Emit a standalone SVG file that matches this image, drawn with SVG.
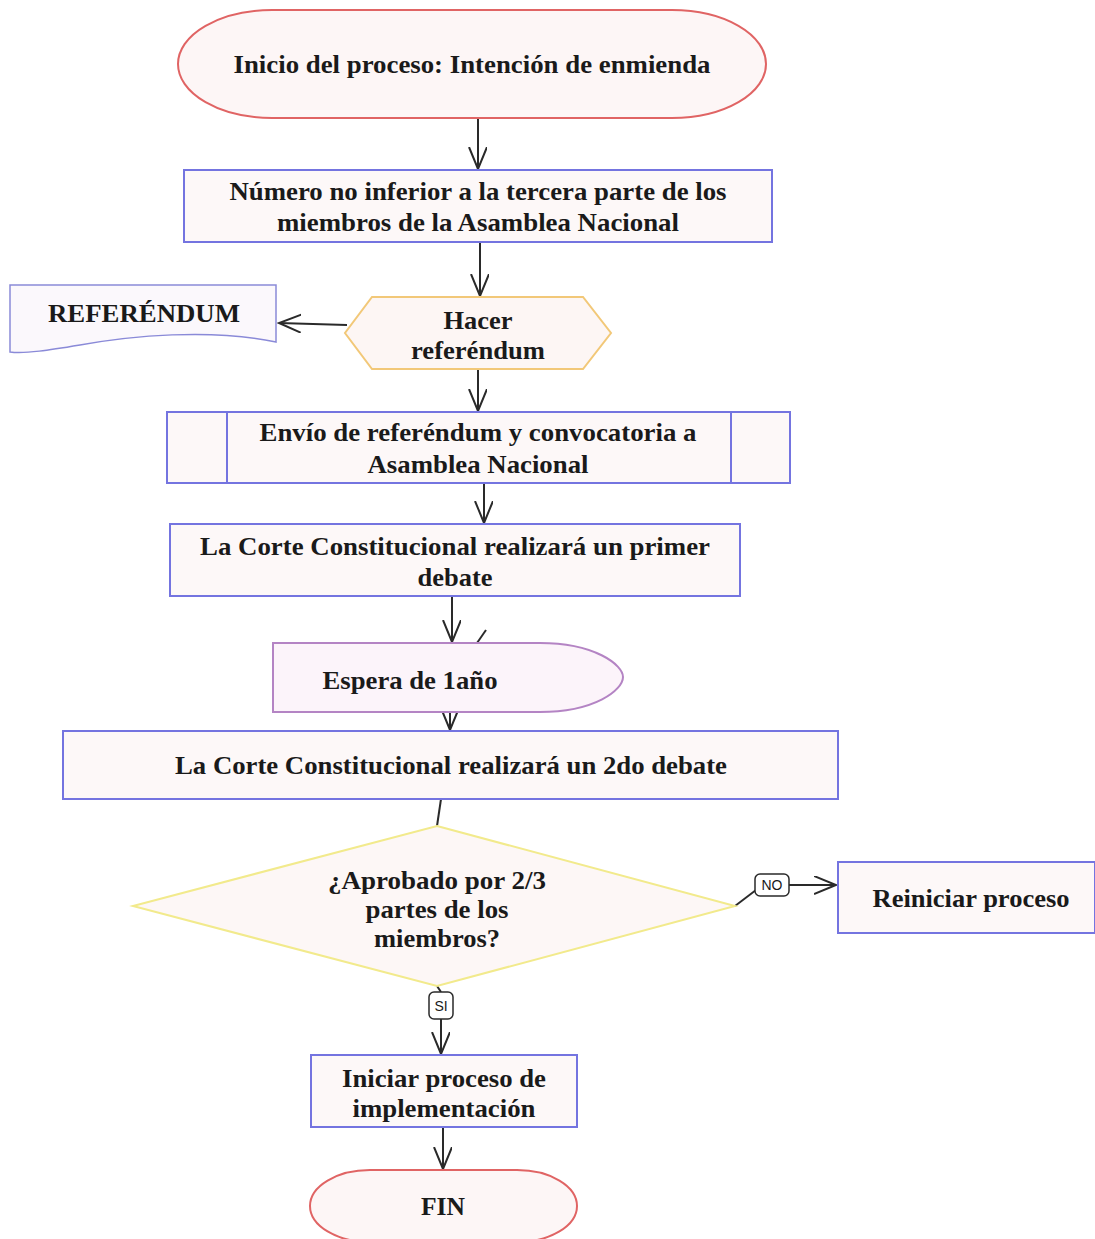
<svg xmlns="http://www.w3.org/2000/svg" width="1095" height="1239" viewBox="0 0 1095 1239">
<style>
text{font-family:"Liberation Serif","Times New Roman",serif;font-weight:bold;font-size:26px;fill:#1a1a1a;text-anchor:middle}
.lbl{font-family:"Liberation Sans",Arial,sans-serif;font-weight:normal;font-size:14px}
.box{fill:#fdf8f8;stroke:#7474e0;stroke-width:2}
.term{fill:#fdf6f6;stroke:#e06464;stroke-width:2}
.hex{fill:#fdf6f4;stroke:#f2c878;stroke-width:2}
.doc{fill:#fbf8fc;stroke:#8a8ad8;stroke-width:1.5}
.dly{fill:#fcf4fa;stroke:#b484c4;stroke-width:2}
.dia{fill:#fdf7f6;stroke:#f2ea8c;stroke-width:2}
.c{fill:none;stroke:#2a2a2a;stroke-width:2}
.tag{fill:#fff;stroke:#2a2a2a;stroke-width:1.5}
</style>
<defs>
<marker id="a" markerUnits="userSpaceOnUse" markerWidth="24" markerHeight="20" refX="22" refY="9" orient="auto">
<path d="M0,0 L22,9 L0,18" fill="none" stroke="#2a2a2a" stroke-width="2"/>
</marker>
</defs>
<rect width="1095" height="1239" fill="#fff"/>
<g id="connectors">
<line class="c" x1="478" y1="118" x2="478" y2="169" marker-end="url(#a)"/>
<line class="c" x1="480" y1="242" x2="480" y2="296" marker-end="url(#a)"/>
<line class="c" x1="347" y1="325" x2="279" y2="323" marker-end="url(#a)"/>
<line class="c" x1="478" y1="369" x2="478" y2="411" marker-end="url(#a)"/>
<line class="c" x1="484" y1="483" x2="484" y2="523" marker-end="url(#a)"/>
<line class="c" x1="452" y1="596" x2="452" y2="642" marker-end="url(#a)"/>
<line class="c" x1="477" y1="643" x2="486" y2="630"/>
<line class="c" x1="450" y1="712" x2="450" y2="730" marker-end="url(#a)"/>
<line class="c" x1="441" y1="799" x2="437" y2="826"/>
<line class="c" x1="735" y1="906" x2="756" y2="890"/>
<line class="c" x1="789" y1="885" x2="836" y2="885" marker-end="url(#a)"/>
<line class="c" x1="437" y1="986" x2="441" y2="992"/>
<line class="c" x1="441" y1="1019" x2="441" y2="1054" marker-end="url(#a)"/>
<line class="c" x1="443" y1="1127" x2="443" y2="1169" marker-end="url(#a)"/>
<rect class="tag" x="755" y="874" width="34" height="22" rx="5"/>
<text class="lbl" x="772" y="890">NO</text>
<rect class="tag" x="429" y="992" width="24" height="27" rx="5"/>
<text class="lbl" x="441" y="1011">SI</text>
</g>
<g id="n1">
<rect class="term" x="178" y="10" width="588" height="108" rx="94" ry="54"/>
<text x="472" y="73" textLength="477" lengthAdjust="spacingAndGlyphs">Inicio del proceso: Intención de enmienda</text>
</g>
<g id="n2">
<rect class="box" x="184" y="170" width="588" height="72"/>
<text x="478" y="200" textLength="497" lengthAdjust="spacingAndGlyphs">Número no inferior a la tercera parte de los</text>
<text x="478" y="231" textLength="402" lengthAdjust="spacingAndGlyphs">miembros de la Asamblea Nacional</text>
</g>
<g id="n3">
<polygon class="hex" points="372,297 583,297 611,333 583,369 372,369 345,333"/>
<text x="478" y="329" textLength="69" lengthAdjust="spacingAndGlyphs">Hacer</text>
<text x="478" y="359" textLength="134" lengthAdjust="spacingAndGlyphs">referéndum</text>
</g>
<g id="n4">
<path class="doc" d="M10,285 L276,285 L276,342 C210,328 130,336 80,345 C50,350 25,354 10,352 Z"/>
<text x="144" y="322" textLength="192" lengthAdjust="spacingAndGlyphs">REFERÉNDUM</text>
</g>
<g id="n5">
<rect class="box" x="167" y="412" width="623" height="71"/>
<line class="box" x1="227" y1="412" x2="227" y2="483"/>
<line class="box" x1="731" y1="412" x2="731" y2="483"/>
<text x="478" y="441" textLength="437" lengthAdjust="spacingAndGlyphs">Envío de referéndum y convocatoria a</text>
<text x="478" y="473" textLength="221" lengthAdjust="spacingAndGlyphs">Asamblea Nacional</text>
</g>
<g id="n6">
<rect class="box" x="170" y="524" width="570" height="72"/>
<text x="455" y="555" textLength="510" lengthAdjust="spacingAndGlyphs">La Corte Constitucional realizará un primer</text>
<text x="455" y="586" textLength="75" lengthAdjust="spacingAndGlyphs">debate</text>
</g>
<g id="n7">
<path class="dly" d="M273,643 L540,643 C595,643 623,665 623,677 C623,690 595,712 540,712 L273,712 Z"/>
<text x="410" y="689" textLength="175" lengthAdjust="spacingAndGlyphs">Espera de 1año</text>
</g>
<g id="n8">
<rect class="box" x="63" y="731" width="775" height="68"/>
<text x="451" y="774" textLength="552" lengthAdjust="spacingAndGlyphs">La Corte Constitucional realizará un 2do debate</text>
</g>
<g id="n9">
<polygon class="dia" points="437,826 735,906 437,986 133,906"/>
<text x="437" y="889" textLength="218" lengthAdjust="spacingAndGlyphs">¿Aprobado por 2/3</text>
<text x="437" y="918" textLength="143" lengthAdjust="spacingAndGlyphs">partes de los</text>
<text x="437" y="947" textLength="126" lengthAdjust="spacingAndGlyphs">miembros?</text>
</g>
<g id="n10">
<rect class="box" x="838" y="862" width="257" height="71"/>
<text x="971" y="907" textLength="197" lengthAdjust="spacingAndGlyphs">Reiniciar proceso</text>
</g>
<g id="n11">
<rect class="box" x="311" y="1055" width="266" height="72"/>
<text x="444" y="1087" textLength="204" lengthAdjust="spacingAndGlyphs">Iniciar proceso de</text>
<text x="444" y="1117" textLength="183" lengthAdjust="spacingAndGlyphs">implementación</text>
</g>
<g id="n12">
<rect class="term" x="310" y="1170" width="267" height="72" rx="60" ry="36"/>
<text x="443" y="1215" textLength="44" lengthAdjust="spacingAndGlyphs">FIN</text>
</g>
</svg>
